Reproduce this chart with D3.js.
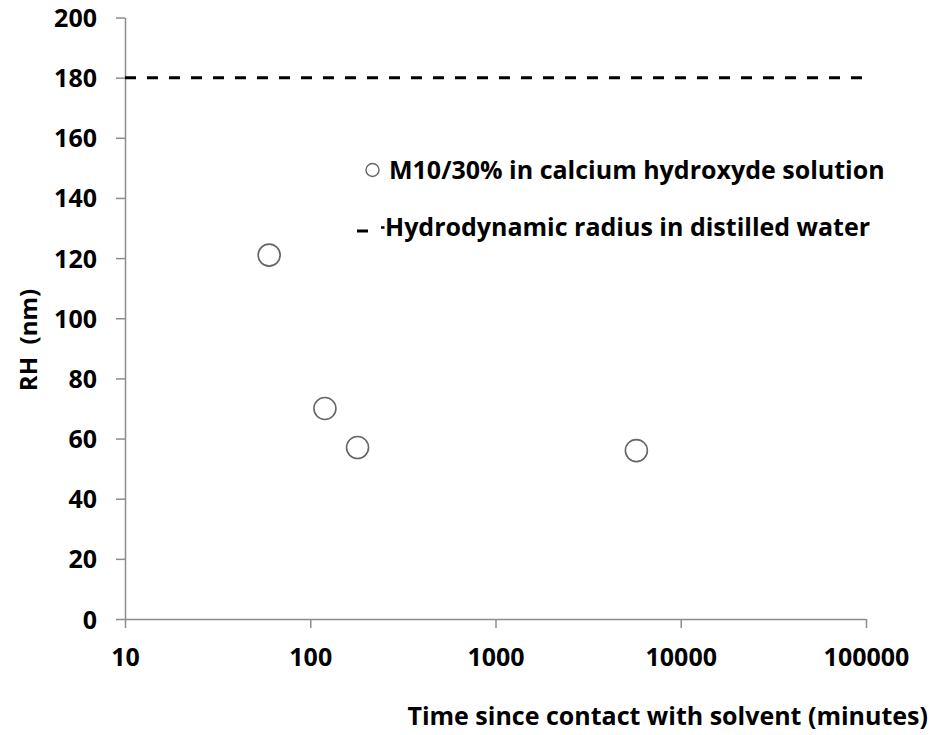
<!DOCTYPE html>
<html>
<head>
<meta charset="utf-8">
<script src="https://cdn.jsdelivr.net/npm/d3@7"></script>
<style>
  html, body { margin: 0; padding: 0; background: #fff; }
  svg { display: block; font-family: "Open Sans", Lato, sans-serif; font-weight: 700; }
</style>
</head>
<body>
<svg id="chart" width="932" height="735"></svg>
<script>
// Time since contact (minutes) and hydrodynamic radius (nm)
const timeMinutes = [60, 120, 180, 5760];
const radiusNm = [121, 70, 57, 56];
const referenceRadius = 180; // distilled water
const xTicks = [10, 100, 1000, 10000, 100000];
const yTicks = [0, 20, 40, 60, 80, 100, 120, 140, 160, 180, 200];
const seriesLabels = ["M10/30% in calcium hydroxyde solution", "Hydrodynamic radius in distilled water"];
const xTitle = "Time since contact with solvent (minutes)";
const yTitle = "RH  (nm)";

const font = "'Open Sans', Lato, sans-serif";
const svg = d3.select("#chart");
const plot = { left: 125, right: 866, top: 17.5, bottom: 619 };

const x = d3.scaleLog().domain([10, 100000]).range([plot.left, plot.right]);
const y = d3.scaleLinear().domain([0, 200]).range([plot.bottom, plot.top]);

const axisColor = "#8c8c8c";

// y axis
const yAxis = svg.append("g")
  .attr("transform", `translate(${plot.left},0)`)
  .call(d3.axisLeft(y).tickValues(yTicks).tickSize(9).tickSizeOuter(0).tickPadding(19).tickFormat(d3.format("d")));
// x axis
const xAxis = svg.append("g")
  .attr("transform", `translate(0,${plot.bottom})`)
  .call(d3.axisBottom(x).tickValues(xTicks).tickSize(9).tickSizeOuter(0).tickPadding(20).tickFormat(d3.format("d")));

[yAxis, xAxis].forEach(g => {
  g.selectAll("path.domain").attr("stroke", axisColor).attr("stroke-width", 1.5);
  g.selectAll(".tick line").attr("stroke", axisColor).attr("stroke-width", 1.5);
  g.selectAll(".tick text").attr("fill", "#000").style("font-size", "25px").style("font-weight", 700).style("font-family", font);
});
yAxis.selectAll(".tick text").attr("dy", "0.36em");
xAxis.selectAll(".tick text").attr("dy", "0.72em");

// reference line: radius in distilled water
svg.append("line")
  .attr("x1", x(10)).attr("x2", x(100000))
  .attr("y1", y(referenceRadius)).attr("y2", y(referenceRadius))
  .attr("stroke", "#000").attr("stroke-width", 3)
  .attr("stroke-dasharray", "11,11");

// measured points
svg.append("g").selectAll("circle")
  .data(timeMinutes.map((t, i) => ({ t, r: radiusNm[i] })))
  .join("circle")
  .attr("cx", d => x(d.t))
  .attr("cy", d => y(d.r))
  .attr("r", 11)
  .attr("fill", "#fff")
  .attr("stroke", "#666")
  .attr("stroke-width", 1.6);

// legend
const legend = svg.append("g");
legend.append("circle").attr("cx", 372.5).attr("cy", 170).attr("r", 6.5)
  .attr("fill", "#fff").attr("stroke", "#666").attr("stroke-width", 1.4);
legend.append("text").attr("x", 389).attr("y", 179).text(seriesLabels[0])
  .style("font-size", "25px").attr("fill", "#000");
legend.append("line").attr("x1", 357).attr("x2", 368).attr("y1", 231).attr("y2", 231)
  .attr("stroke", "#000").attr("stroke-width", 3);
legend.append("line").attr("x1", 381).attr("x2", 384.5).attr("y1", 227.5).attr("y2", 227.5)
  .attr("stroke", "#000").attr("stroke-width", 2.5);
legend.append("text").attr("x", 385).attr("y", 236).text(seriesLabels[1])
  .style("font-size", "25px").attr("fill", "#000");

// axis titles
svg.append("text").attr("x", 928).attr("y", 725).attr("text-anchor", "end")
  .style("font-size", "25px").attr("fill", "#000").text(xTitle);
svg.append("text")
  .attr("transform", `translate(37,340) rotate(-90)`)
  .attr("text-anchor", "middle")
  .style("white-space", "pre")
  .style("font-size", "24px").attr("fill", "#000").text(yTitle);
</script>
</body>
</html>
